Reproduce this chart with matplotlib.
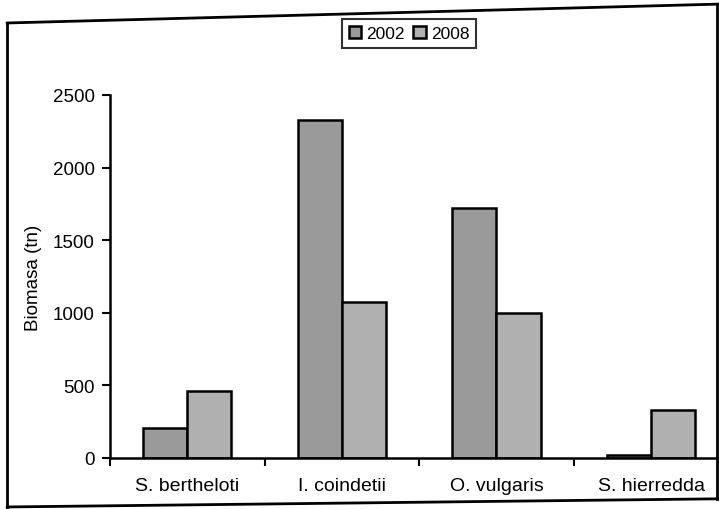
import numpy as np
import matplotlib.pyplot as plt
from matplotlib.lines import Line2D

plt.rcParams['font.family'] = ['Liberation Sans', 'DejaVu Sans']

species = ["S. bertheloti", "I. coindetii", "O. vulgaris", "S. hierredda"]
years = ["2002", "2008"]
biomass_2002 = [205, 2330, 1720, 18]
biomass_2008 = [460, 1075, 1000, 330]

fig = plt.figure(figsize=(7.19, 5.1), dpi=100)
ax = fig.add_axes([0.153, 0.1, 0.86, 0.712])

x = np.arange(len(species))
w = 1 / 3.5
ax.bar(x - w / 2, biomass_2002, w, color='#9a9a9a', edgecolor='black',
       linewidth=1.8, label=years[0])
ax.bar(x + w / 2, biomass_2008, w, color='#b0b0b0', edgecolor='black',
       linewidth=1.8, label=years[1])

ax.set_ylim(0, 2500)
ax.set_xlim(-0.5, 3.45)
ax.set_yticks([0, 500, 1000, 1500, 2000, 2500])
ax.set_xticks(x)
ax.set_xticklabels(species, fontsize=14)
ax.set_xticks(np.arange(-0.5, 4, 1), minor=True)
ax.tick_params(axis='x', which='major', length=0, pad=14)
ax.tick_params(axis='x', which='minor', length=6, width=1.5, direction='out')
ax.tick_params(axis='y', length=6, width=1.5, labelsize=13.5, pad=5)
ax.set_ylabel("Biomasa (tn)", fontsize=13.5, labelpad=8)

for s in ['top', 'right']:
    ax.spines[s].set_visible(False)
for s in ['left', 'bottom']:
    ax.spines[s].set_linewidth(1.8)

leg = fig.legend(loc='center', bbox_to_anchor=(0.569, 0.933), ncol=2,
                 fontsize=12.5, frameon=True, fancybox=False, edgecolor='black',
                 handlelength=0.7, handleheight=0.7, handletextpad=0.3,
                 columnspacing=0.5, borderpad=0.4)
leg.get_frame().set_linewidth(1.5)

# chart border
fig.add_artist(Line2D([0.01, 0.01], [0.004, 0.953], color='black', lw=2))
fig.add_artist(Line2D([0.01, 1.0], [0.953, 0.99], color='black', lw=2))
fig.add_artist(Line2D([0.997, 0.997], [0.02, 0.99], color='black', lw=2))
fig.add_artist(Line2D([0.01, 1.0], [0.004, 0.02], color='black', lw=2))

fig.savefig("out.png", dpi=100)
